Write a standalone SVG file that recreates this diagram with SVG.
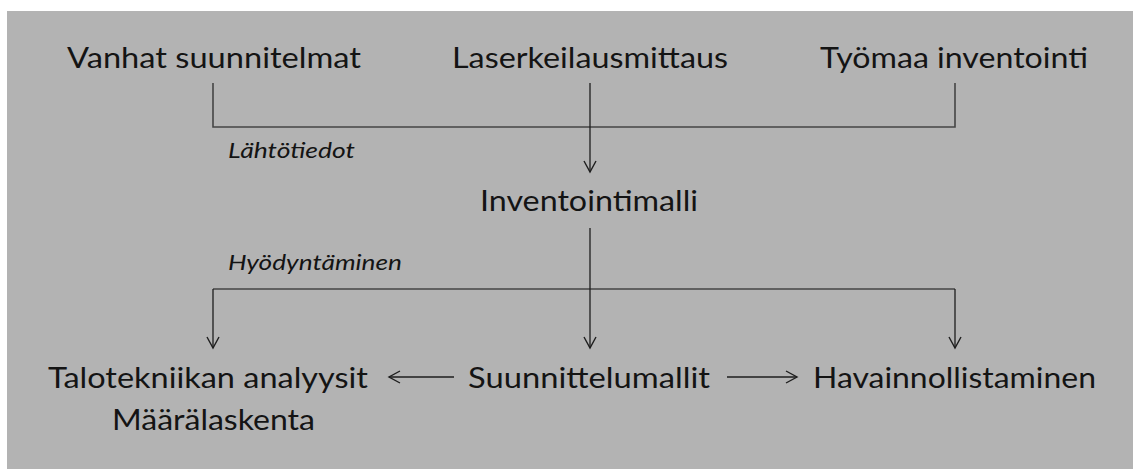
<svg xmlns="http://www.w3.org/2000/svg" width="1133" height="469" viewBox="0 0 1133 469">
<defs>
<marker id="arr" markerUnits="userSpaceOnUse" markerWidth="14" markerHeight="14" refX="12" refY="7" orient="auto" viewBox="0 0 14 14">
<path d="M1,1 L12,7 L1,13" fill="none" stroke="#1e1e1e" stroke-width="1.4"/>
</marker>
</defs>
<style>
.t{font-family:Lato,"Open Sans","Liberation Sans",sans-serif;font-size:29px;fill:#141414;text-anchor:start}
.i{font-family:Lato,"Open Sans","Liberation Sans",sans-serif;font-size:21px;font-style:italic;fill:#141414}
.b{fill:none;stroke:#454545;stroke-width:1.6}
.a{fill:none;stroke:#1e1e1e;stroke-width:1.3;marker-end:url(#arr)}
</style>
<rect x="0" y="0" width="1133" height="469" fill="#ffffff"/>
<rect x="7" y="11" width="1126" height="458" fill="#b3b3b3"/>
<g id="connectors">
<polyline class="b" points="213,83 213,127 955,127 955,83"/>
<line class="a" x1="590" y1="83" x2="590" y2="172"/>
<line class="b" x1="213" y1="289" x2="955" y2="289"/>
<line class="a" x1="213" y1="289" x2="213" y2="348"/>
<line class="a" x1="955" y1="289" x2="955" y2="348"/>
<line class="a" x1="590" y1="228" x2="590" y2="348"/>
<line class="a" x1="454" y1="377" x2="389" y2="377"/>
<line class="a" x1="727" y1="377" x2="797" y2="377"/>
</g>
<g id="vanhat"><text class="t" x="67" y="68" textLength="294" lengthAdjust="spacingAndGlyphs">Vanhat suunnitelmat</text></g>
<g id="laser"><text class="t" x="452" y="68" textLength="276" lengthAdjust="spacingAndGlyphs">Laserkeilausmittaus</text></g>
<g id="tyomaa"><text class="t" x="820" y="68" textLength="268" lengthAdjust="spacingAndGlyphs">Työmaa inventointi</text></g>
<g id="lahto"><text class="i" x="228" y="158" textLength="127" lengthAdjust="spacingAndGlyphs">Lähtötiedot</text></g>
<g id="inventointimalli"><text class="t" x="480" y="211" textLength="218" lengthAdjust="spacingAndGlyphs">Inventointimalli</text></g>
<g id="hyody"><text class="i" x="228" y="270" textLength="174" lengthAdjust="spacingAndGlyphs">Hyödyntäminen</text></g>
<g id="talotekniikka">
<text class="t" x="48" y="388" textLength="320" lengthAdjust="spacingAndGlyphs">Talotekniikan analyysit</text>
<text class="t" x="112" y="430" textLength="203" lengthAdjust="spacingAndGlyphs">Määrälaskenta</text>
</g>
<g id="suunnittelumallit"><text class="t" x="468" y="388" textLength="242" lengthAdjust="spacingAndGlyphs">Suunnittelumallit</text></g>
<g id="havainnollistaminen"><text class="t" x="813" y="388" textLength="283" lengthAdjust="spacingAndGlyphs">Havainnollistaminen</text></g>
</svg>
